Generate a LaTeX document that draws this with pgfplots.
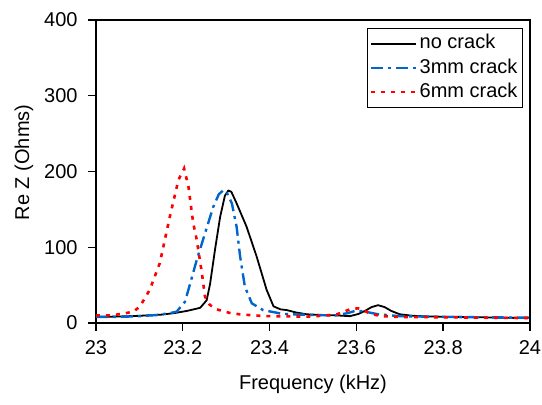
\documentclass[border=0pt]{standalone}
\usepackage{fontspec}
\setmainfont{Liberation Sans}
\usepackage{pgfplots}
\pgfplotsset{compat=1.18}
\definecolor{crackblue}{RGB}{0,102,204}
\definecolor{crackred}{RGB}{255,0,0}

\begin{document}
\fontsize{10}{12}\selectfont
\begin{tikzpicture}
\begin{axis}[
    name=ax,
    scale only axis,
    width=217pt, height=151.5pt,
    xmin=23, xmax=24,
    ymin=0, ymax=400,
    xtick={23,23.2,23.4,23.6,23.8,24},
    xticklabels={23,23.2,23.4,23.6,23.8,24},
    ytick={0,100,200,300,400},
    tick pos=left,
    tick align=outside,
    major tick length=4pt,
    axis line style={line width=0.7pt},
    every tick/.style={black, line width=0.7pt},
    /pgf/number format/assume math mode=true,
    ticklabel style={font=\fontsize{10}{12}\selectfont},
    xticklabel style={yshift=-1.2pt},
    yticklabel style={xshift=-1.7pt},
    xlabel={Frequency (kHz)},
    ylabel={Re Z (Ohms)},
    every axis x label/.style={at={(axis description cs:0.5,0)}, anchor=center, yshift=-30.5pt, font=\fontsize{10}{12}\selectfont},
    every axis y label/.style={at={(axis description cs:-0.166,0.53)}, rotate=90, anchor=center, font=\fontsize{10}{12}\selectfont},
    legend style={at={(1,1)}, anchor=north east, xshift=-3.5pt, yshift=-4pt,
        draw=black, line width=0.5pt, fill=white,
        inner xsep=1.5pt, inner ysep=2pt, row sep=0.8pt,
        nodes={inner sep=1pt, text depth=0.2em},
        font=\fontsize{10}{12}\selectfont},
    legend cell align=left,
    legend image code/.code={\draw[#1] (0pt,0pt) -- (22.5pt,0pt);},
]

\addplot[black, line width=0.9pt, line join=round] coordinates {
(23.00,8)(23.05,8.5)(23.10,9.5)(23.15,11)(23.18,13)(23.21,16)(23.24,20)
(23.255,30)(23.263,52)(23.274,96)(23.286,140)(23.297,168)(23.305,175)
(23.312,173)(23.324,158)(23.347,127)(23.37,88)(23.393,44)(23.409,22)
(23.425,18)(23.44,17)(23.46,14)(23.485,11.5)(23.52,10.5)(23.555,10)
(23.585,9)(23.605,12)(23.62,16)(23.635,21)(23.65,23.5)(23.665,21)
(23.68,16)(23.70,11.5)(23.73,9.5)(23.77,8.5)(23.85,8)(23.93,7)(24.00,6.5)
};
\addlegendentry{no crack}

\addplot[crackblue, line width=1.2pt, dash pattern=on 6pt off 2.5pt on 1.5pt off 2.5pt] coordinates {
(23.00,8)(23.05,8)(23.10,9)(23.14,10.5)(23.17,13)(23.186,15)(23.205,28)
(23.217,52)(23.232,83)(23.251,118)(23.27,153)(23.283,170)(23.293,175)
(23.30,174)(23.313,158)(23.324,127)(23.332,88)(23.343,48)(23.359,26)
(23.385,17)(23.43,12)(23.50,10.5)(23.55,10)(23.58,13)(23.60,16.5)
(23.62,15)(23.65,11.5)(23.70,9)(23.80,8)(23.90,7.5)(24.00,7)
};
\addlegendentry{3mm crack}

\addplot[crackred, line width=1.3pt, dash pattern=on 2pt off 3pt] coordinates {
(23.00,10)(23.032,10)(23.06,12)(23.086,15)(23.101,21.5)(23.124,44)
(23.147,79)(23.17,140)(23.19,189)(23.203,204)(23.213,180)(23.224,132)
(23.232,110)(23.244,66)(23.251,35)(23.262,24)(23.278,18)(23.31,13)
(23.332,11.4)(23.385,9.2)(23.485,8.4)(23.52,9.5)(23.555,11.4)(23.585,18)
(23.604,19.4)(23.631,12.8)(23.654,9.2)(23.693,8)(23.80,7.5)(24.00,6.5)
};
\addlegendentry{6mm crack}

\end{axis}
\pgfresetboundingbox
\path[use as bounding box] ([xshift=-48pt,yshift=-41pt]ax.south west) rectangle ([xshift=6pt,yshift=10pt]ax.north east);
\end{tikzpicture}
\end{document}
